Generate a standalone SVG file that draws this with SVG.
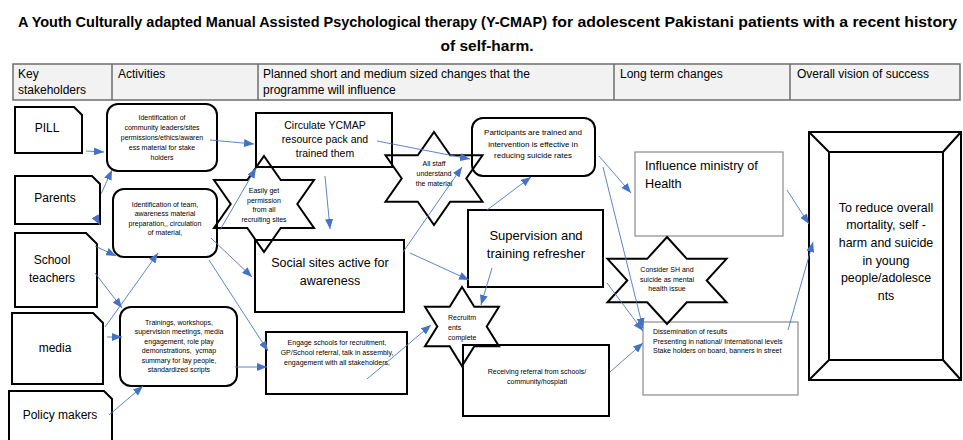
<svg xmlns="http://www.w3.org/2000/svg" width="963" height="440" viewBox="0 0 963 440">
<style>
text{font-family:"Liberation Sans",Arial,sans-serif;fill:#000}
.title{font-size:15.5px;font-weight:bold}
.hd{font-size:12px}
.sk{font-size:12px;text-anchor:middle}
.s7{font-size:7px;text-anchor:middle}
.s7l{font-size:7px}
.box{fill:#fff;stroke:#000;stroke-width:2}
.thin{fill:#fff;stroke:#8a8a8a;stroke-width:1.2}
.star{fill:none;stroke:#000;stroke-width:2;stroke-linejoin:miter}
.con{fill:none;stroke:#4a76c6;stroke-width:0.9;marker-end:url(#ah)}
</style>
<defs>
<marker id="ah" markerUnits="userSpaceOnUse" markerWidth="10" markerHeight="8" refX="10" refY="4" orient="auto">
<path d="M0,0 L10,4 L0,8 Z" fill="#4472c4"/>
</marker>
</defs>
<rect width="963" height="440" fill="#fff"/>
<g id="title">
<text class="title" x="18" y="27" textLength="529" lengthAdjust="spacingAndGlyphs">A Youth Culturally adapted Manual Assisted Psychological therapy (Y-CMAP)</text>
<text class="title" x="957" y="27" text-anchor="end" textLength="405" lengthAdjust="spacingAndGlyphs">for adolescent Pakistani patients with a recent history</text>
<text class="title" x="487" y="51" text-anchor="middle">of self-harm.</text>
</g>
<g id="header">
<rect x="13" y="64" width="947" height="36" fill="#f2f2f2" stroke="#6d6d6d" stroke-width="1.5"/>
<path d="M112,64 V100 M258,64 V100 M614,64 V100 M790,64 V100" stroke="#6d6d6d" stroke-width="1.5"/>
<text class="hd" x="18" y="78">Key</text>
<text class="hd" x="18" y="94">stakeholders</text>
<text class="hd" x="118" y="78">Activities</text>
<text class="hd" x="263" y="78">Planned short and medium sized changes that the</text>
<text class="hd" x="263" y="94">programme will influence</text>
<text class="hd" x="620" y="78">Long term changes</text>
<text class="hd" x="797" y="78">Overall vision of success</text>
</g>
<g id="pill">
<path class="box" d="M15,107 H74 L82,115 V153 H15 Z"/>
<text class="sk" x="47" y="132">PILL</text>
</g>
<g id="parents">
<path class="box" d="M15,176 H92 L100,184 V224 H15 Z"/>
<text class="sk" x="55" y="202">Parents</text>
</g>
<g id="teachers">
<path class="box" d="M15,233 H86 L97,244 V307 H15 Z"/>
<text class="sk" x="52" y="264">School</text>
<text class="sk" x="52" y="282">teachers</text>
</g>
<g id="media">
<path class="box" d="M12,313 H93 L103,323 V384 H12 Z"/>
<text class="sk" x="55" y="352">media</text>
</g>
<g id="policy">
<path class="box" d="M9,391 H104 L112,399 V446 H9 Z"/>
<text class="sk" x="60" y="419">Policy makers</text>
</g>
<g id="act1">
<rect class="box" x="107" y="104" width="110" height="67" rx="11"/>
<text class="s7" x="162" y="119.5">Identification of</text>
<text class="s7" x="162" y="129.5">community leaders/sites</text>
<text class="s7" x="162" y="139.5">permissions/ethics/awaren</text>
<text class="s7" x="162" y="149.5">ess material for stake</text>
<text class="s7" x="162" y="159.5">holders</text>
</g>
<g id="act2">
<rect class="box" x="113" y="189" width="104" height="68" rx="11"/>
<text class="s7" x="165" y="206.5">Identification of team,</text>
<text class="s7" x="165" y="216">awareness material</text>
<text class="s7" x="165" y="225.5">preparation,, circulation</text>
<text class="s7" x="165" y="235">of material,</text>
</g>
<g id="act3">
<rect class="box" x="120" y="307" width="117" height="79" rx="11"/>
<text class="s7" x="179" y="324.5">Trainings, workshops,</text>
<text class="s7" x="179" y="334">supervision meetings, media</text>
<text class="s7" x="179" y="343.5">engagement, role play</text>
<text class="s7" x="179" y="353" xml:space="preserve">demonstrations,  ycmap</text>
<text class="s7" x="179" y="362.5">summary for lay people,</text>
<text class="s7" x="179" y="372">standardized scripts</text>
</g>
<g id="circulate">
<rect class="box" x="256" y="113" width="136" height="54"/>
<text x="325" y="129" font-size="10.5" text-anchor="middle">Circulate YCMAP</text>
<text x="325" y="143" font-size="10.5" text-anchor="middle">resource pack and</text>
<text x="325" y="157" font-size="10.5" text-anchor="middle">trained them</text>
</g>
<g id="social">
<rect class="box" x="255" y="240" width="149" height="72"/>
<text x="330" y="266.5" font-size="12.5" text-anchor="middle">Social sites active for</text>
<text x="330" y="284.5" font-size="12.5" text-anchor="middle">awareness</text>
</g>
<g id="engage">
<rect class="box" x="266" y="332" width="141" height="62"/>
<text class="s7" x="337" y="344.5">Engage schools for recruitment,</text>
<text class="s7" x="337" y="354.5">GP/School referral, talk in assembly,</text>
<text class="s7" x="337" y="364.5">engagement with all stakeholders,</text>
</g>
<g id="participants">
<rect class="box" x="472" y="118" width="123" height="58" rx="11"/>
<text x="533" y="135" font-size="8" text-anchor="middle">Participants are trained and</text>
<text x="533" y="146.5" font-size="8" text-anchor="middle">intervention is effective in</text>
<text x="533" y="158" font-size="8" text-anchor="middle">reducing suicide rates</text>
</g>
<g id="supervision">
<rect class="box" x="468" y="210" width="135" height="77"/>
<text x="536" y="240" font-size="13" text-anchor="middle">Supervision and</text>
<text x="536" y="258" font-size="13" text-anchor="middle">training refresher</text>
</g>
<g id="receiving">
<rect class="box" x="463" y="345" width="146" height="71"/>
<text class="s7" x="537" y="373.5">Receiving referral from schools/</text>
<text class="s7" x="537" y="383.5">community/hospiatl</text>
</g>
<g id="influence">
<rect class="thin" x="635" y="152" width="148" height="84"/>
<text x="645" y="170" font-size="12.7">Influence ministry of</text>
<text x="645" y="188" font-size="12.7">Health</text>
</g>
<g id="dissemination">
<rect class="thin" x="643" y="322" width="155" height="73"/>
<text class="s7l" x="653" y="333.5">Dissemination of results</text>
<text class="s7l" x="653" y="343.5">Presenting in national/ International levels</text>
<text class="s7l" x="653" y="352.5">Stake holders on board, banners in street</text>
</g>
<g id="vision">
<rect class="box" x="809" y="132" width="152" height="248"/>
<rect class="box" x="829" y="152" width="114" height="208"/>
<path d="M809,132 L829,152 M961,132 L943,152 M809,380 L829,360 M961,380 L943,360" stroke="#000" stroke-width="2"/>
<text x="886" y="211.5" font-size="12.4" text-anchor="middle">To reduce overall</text>
<text x="886" y="229" font-size="12.4" text-anchor="middle">mortality, self -</text>
<text x="886" y="247" font-size="12.4" text-anchor="middle">harm and suicide</text>
<text x="886" y="264.5" font-size="12.4" text-anchor="middle">in young</text>
<text x="886" y="282" font-size="12.4" text-anchor="middle">people/adolesce</text>
<text x="886" y="300" font-size="12.4" text-anchor="middle">nts</text>
</g>
<g id="star-permission">
<polygon class="star" points="264,156 280.7,180 314,180 297.3,204 314,228 280.7,228 264,252 247.3,228 214,228 230.7,204 214,180 247.3,180"/>
<text class="s7" x="264" y="192.5">Easily get</text>
<text class="s7" x="264" y="202.5">permission</text>
<text class="s7" x="264" y="211.5">from all</text>
<text class="s7" x="264" y="221.5">recruiting sites</text>
</g>
<g id="star-staff">
<polygon class="star" points="434,132 450.2,155.3 482.5,155.3 466.3,178.5 482.5,201.8 450.2,201.8 434,225 417.8,201.8 385.5,201.8 401.7,178.5 385.5,155.3 417.8,155.3"/>
<text class="s7" x="434" y="165.5">All staff</text>
<text class="s7" x="434" y="175.5">understand</text>
<text class="s7" x="434" y="185.5">the material</text>
</g>
<g id="star-recruit">
<polygon class="star" points="462,287 474.3,306.8 499,306.8 486.7,326.5 499,346.3 474.3,346.3 462,366 449.7,346.3 425,346.3 437.3,326.5 425,306.8 449.7,306.8"/>
<text class="s7l" x="448" y="319.5">Recruitm</text>
<text class="s7l" x="448" y="329.5">ents</text>
<text class="s7l" x="448" y="339.5">complete</text>
</g>
<g id="star-consider">
<polygon class="star" points="667,237 686.8,258.8 726.5,258.8 706.7,280.5 726.5,302.3 686.8,302.3 667,324 647.2,302.3 607.5,302.3 627.3,280.5 607.5,258.8 647.2,258.8"/>
<text class="s7" x="667" y="271.5">Consider SH and</text>
<text class="s7" x="667" y="281.5">suicide as mental</text>
<text class="s7" x="667" y="290.5">health issue</text>
</g>
<g id="connectors">
<path class="con" d="M86,151 L104,152"/>
<path class="con" d="M101,194 L112,170"/>
<path class="con" d="M95,216 L100,225"/>
<path class="con" d="M95,246 L116,256"/>
<path class="con" d="M105,327 L158,253"/>
<path class="con" d="M95,273 L122,308"/>
<path class="con" d="M107,337 L122,337"/>
<path class="con" d="M109,415 L143,386"/>
<path class="con" d="M210,140 L254,144"/>
<path class="con" d="M220,230 L256,168"/>
<path class="con" d="M211,238 L252,277"/>
<path class="con" d="M209,260 L268,351"/>
<path class="con" d="M235,367 L267,367"/>
<path class="con" d="M325,176 L330,229"/>
<path class="con" d="M377,141 L470,159"/>
<path class="con" d="M403,252 L462,167"/>
<path class="con" d="M410,253 L469,280"/>
<path class="con" d="M367,379 L431,325"/>
<path class="con" d="M487,210 L531,177"/>
<path class="con" d="M492,268 L481,305"/>
<path class="con" d="M599,156 L631,193"/>
<path class="con" d="M603,167 L643,328"/>
<path class="con" d="M607,283 L643,331"/>
<path class="con" d="M610,372 L643,343"/>
<path class="con" d="M787,190 L809,224"/>
<path class="con" d="M788,330 L813,242"/>
</g>
</svg>
